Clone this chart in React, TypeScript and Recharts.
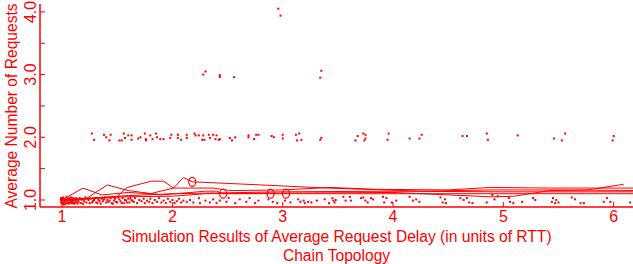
import { ComposedChart, Scatter, XAxis, YAxis } from 'recharts'

const RED = '#ff0000'
const FONT = '"Liberation Sans", Arial, sans-serif'

const xTicks = [1, 2, 3, 4, 5, 6]
const yTicks = [1, 1.5, 2, 2.5, 3, 3.5, 4]

// band near 1.0 (x, y)
const lowPts: [number, number][] = [
  [1.0, 0.95], [1.0, 0.98], [1.0, 1.02], [1.01, 0.96], [1.01, 1.04], [1.02, 0.99], [1.02, 0.93], [1.03, 1.01],
  [1.03, 0.97], [1.04, 1.05], [1.04, 0.95], [1.05, 0.99], [1.05, 1.02], [1.06, 0.96], [1.06, 0.94], [1.07, 1.03],
  [1.07, 0.99], [1.08, 0.97], [1.08, 1.04], [1.09, 0.95], [1.09, 1.01], [1.1, 0.98], [1.11, 1.02], [1.11, 0.94],
  [0.99, 1.0], [0.99, 0.96], [0.99, 1.03], [1.01, 0.93], [1.02, 1.02], [1.03, 0.94], [1.04, 1.0], [1.05, 0.96],
  [1.06, 1.01], [1.07, 0.95], [1.08, 1.0], [1.09, 0.98], [1.1, 1.03], [1.1, 0.95], [1.12, 0.96], [1.14, 0.94],
  [1.12, 0.99], [1.13, 1.03], [1.13, 0.96], [1.14, 1.0], [1.15, 0.97], [1.16, 1.03], [1.17, 0.95], [1.18, 1.01],
  [1.2, 0.98], [1.21, 1.04], [1.22, 0.96], [1.24, 1.0], [1.25, 0.95], [1.26, 1.02], [1.28, 0.98], [1.3, 1.03],
  [1.19, 0.94], [1.23, 1.02], [1.27, 0.96], [1.29, 1.0], [1.32, 0.95], [1.34, 0.98], [1.38, 1.01], [1.43, 0.99],
  [1.31, 0.96], [1.33, 1.0], [1.35, 0.94], [1.36, 1.02], [1.37, 0.98], [1.39, 1.04], [1.4, 0.96], [1.41, 1.0],
  [1.42, 0.97], [1.44, 1.03], [1.45, 0.95], [1.47, 0.99], [1.48, 1.02], [1.5, 0.96], [1.52, 1.01], [1.53, 0.98],
  [1.46, 0.94], [1.49, 0.97], [1.51, 1.04], [1.54, 0.95], [1.57, 1.0], [1.59, 0.96], [1.62, 1.03], [1.64, 0.98],
  [1.55, 1.03], [1.56, 0.95], [1.58, 0.99], [1.6, 1.02], [1.61, 0.96], [1.63, 1.0], [1.65, 0.97], [1.66, 1.03],
  [1.68, 0.95], [1.7, 1.0], [1.72, 0.98], [1.74, 1.02], [1.75, 0.95], [1.77, 0.99], [1.79, 0.97], [1.8, 1.02],
  [1.82, 0.95], [1.84, 1.0], [1.86, 0.97], [1.88, 1.03], [1.9, 0.96], [1.92, 0.99], [1.94, 0.95], [1.96, 1.02],
  [1.98, 0.97], [2.0, 1.0], [2.02, 0.95], [2.04, 0.98], [2.06, 1.02], [2.08, 0.96], [2.1, 0.99],
  [2.13, 0.97], [2.16, 1.0], [2.19, 0.96], [2.24, 1.03], [2.25, 0.95], [2.3, 0.99], [2.34, 0.96], [2.37, 1.01],
  [2.4, 0.95], [2.43, 0.99], [2.49, 0.97], [2.51, 1.03], [2.57, 0.95], [2.61, 1.01], [2.67, 0.97], [2.7, 1.03],
  [2.75, 0.95], [2.78, 0.99], [2.87, 1.01], [2.91, 0.97], [2.95, 0.95], [3.02, 0.99], [3.07, 0.96], [3.14, 1.01],
  [3.16, 0.97], [3.19, 0.99], [3.2, 0.95], [3.23, 0.97], [3.26, 0.96], [3.31, 0.99], [3.38, 1.01], [3.42, 0.95],
  [3.46, 0.99], [3.45, 1.03], [3.47, 0.96], [3.48, 1.0], [3.55, 1.05], [3.57, 0.99], [3.61, 1.05], [3.62, 0.99],
  [3.71, 1.03], [3.73, 1.04], [3.75, 0.99], [3.77, 0.96], [3.8, 1.03], [3.82, 1.01], [3.91, 1.05], [3.92, 0.96],
  [3.94, 1.03], [3.99, 0.96], [4.03, 0.99], [4.15, 1.05], [4.18, 0.99], [4.24, 0.97], [4.21, 1.01], [4.43, 1.04],
  [4.45, 0.96], [4.48, 0.95], [4.47, 1.01], [4.61, 1.03], [4.64, 1.0], [4.67, 1.03], [4.69, 0.96], [4.72, 0.95],
  [4.85, 0.96], [4.9, 1.08], [4.92, 1.01], [4.95, 1.06], [5.05, 1.03], [5.06, 0.97], [5.09, 0.95], [5.17, 0.97],
  [5.27, 1.03], [5.29, 1.0], [5.44, 0.97], [5.45, 1.03], [5.47, 0.95], [5.48, 1.0], [5.5, 0.96], [5.62, 1.04],
  [5.65, 1.01], [5.7, 0.95], [5.73, 0.95], [5.91, 0.97], [5.94, 1.03], [5.97, 0.97], [6.15, 0.96],
]

// band near 2.0
const midPts: [number, number][] = [
  [1.27, 2.06], [1.29, 1.96], [1.38, 2.04], [1.4, 2.0], [1.43, 1.95], [1.44, 2.04], [1.52, 1.95], [1.54, 1.95],
  [1.56, 2.06], [1.57, 1.99], [1.6, 2.03], [1.63, 2.03], [1.63, 1.96], [1.69, 1.98], [1.71, 2.0], [1.75, 2.06],
  [1.76, 1.97], [1.76, 1.95], [1.8, 2.03], [1.82, 1.97], [1.85, 2.06], [1.86, 2.0], [1.89, 1.97], [1.92, 1.97],
  [1.98, 1.99], [1.99, 2.04], [2.05, 2.04], [2.05, 1.99], [2.08, 1.96], [2.13, 2.04], [2.13, 1.99], [2.2, 2.06],
  [2.21, 2.03], [2.24, 2.03], [2.27, 1.96], [2.28, 2.03], [2.29, 1.96], [2.33, 2.04], [2.34, 1.99], [2.37, 2.04],
  [2.39, 1.97], [2.4, 2.03], [2.42, 1.96], [2.43, 1.97], [2.52, 1.99], [2.54, 1.95], [2.57, 2.0], [2.69, 2.03],
  [2.69, 2.0], [2.74, 1.97], [2.76, 2.04], [2.78, 2.04], [2.9, 2.02], [2.92, 2.0], [3.0, 2.04], [3.0, 1.98],
  [3.12, 2.04], [3.15, 2.06], [3.13, 1.95], [3.17, 1.96], [3.35, 1.99], [3.34, 1.96], [3.68, 2.02], [3.66, 1.95],
  [3.73, 2.06], [3.75, 2.04], [3.75, 1.98], [3.74, 1.95], [3.96, 2.06], [3.95, 1.96], [4.15, 1.98], [4.26, 2.04],
  [4.24, 1.98], [4.63, 2.02], [4.67, 2.02], [4.85, 2.06], [4.86, 1.96], [5.13, 2.03], [5.46, 1.98], [5.56, 2.06],
  [5.53, 1.95], [6.0, 2.02], [5.99, 1.95],
]

// outliers near 3.0 and 4.0
const highPts: [number, number][] = [
  [2.3, 3.05], [2.28, 3.0], [2.43, 2.99], [2.43, 2.96], [2.56, 2.96], [3.35, 3.06], [3.34, 2.95],
  [2.96, 4.05], [2.98, 3.94],
]

const lineA: [number, number][] = [
  [1, 1], [1.49, 1.04], [1.59, 1.2], [1.81, 1.3], [1.92, 1.3], [2.01, 1.19], [2.1, 1.36], [2.18, 1.29],
  [2.8, 1.24], [3.41, 1.19], [4.27, 1.14], [4.88, 1.16], [5.42, 1.16], [6.3, 1.15],
]
const lineB: [number, number][] = [
  [1, 1], [1.19, 1.19], [1.36, 1.08], [1.6, 1.12], [1.8, 1.1], [2.01, 1.19], [2.37, 1.19], [2.52, 1.15],
  [3.0, 1.16], [3.43, 1.2], [3.84, 1.17], [4.5, 1.16], [4.88, 1.2], [5.42, 1.19], [6.3, 1.19],
]
const lineC: [number, number][] = [
  [1, 1], [1.2, 1.0], [1.41, 1.24], [1.6, 1.15], [1.9, 1.08], [2.3, 1.14], [2.4, 1.14], [2.46, 1.1],
  [2.9, 1.1], [3.03, 1.1], [6.3, 1.1],
]
const lineD: [number, number][] = [
  [1, 1], [1.5, 1.05], [2.0, 1.06], [2.3, 1.1], [3.0, 1.11], [4.0, 1.12], [4.9, 1.05], [5.1, 1.06],
  [5.42, 1.15], [5.76, 1.16], [6.09, 1.25],
]
const lineE: [number, number][] = [
  [1, 1], [1.6, 1.07], [2.0, 1.1], [3.0, 1.13], [4.0, 1.14], [5.0, 1.13], [6.3, 1.13],
]
const rings: [number, number][] = [[2.18, 1.29], [2.46, 1.1], [2.89, 1.1], [3.03, 1.1]]

const toRows = (arr: [number, number][]) => arr.map(([x, y]) => ({ x, y }))

// plot frame edges in the 633x264 canvas
const AXIS_Y = 207
const AXIS_X = 40

const Dot = (p: any) => <rect x={p.cx - 1} y={p.cy - 1} width={2} height={2} fill={RED} />
const Ring = (p: any) => <ellipse cx={p.cx} cy={p.cy} rx={3.5} ry={4.5} fill="none" stroke={RED} strokeWidth={1.2} />
const NoDot = () => <g />

const XTick = (p: any) => (
  <g>
    <line x1={p.x} x2={p.x} y1={AXIS_Y} y2={AXIS_Y - 5} stroke={RED} />
    <text x={p.x} y={AXIS_Y + 15} textAnchor="middle" fill={RED} fontSize={16} fontFamily={FONT}>
      {p.payload.value}
    </text>
  </g>
)

const YTick = (p: any) => {
  const v = p.payload.value
  const tx = AXIS_X - 4
  return (
    <g>
      <line x1={AXIS_X} x2={AXIS_X + 5} y1={p.y} y2={p.y} stroke={RED} />
      {Number.isInteger(v) && (
        <text x={tx} y={p.y} transform={`rotate(-90 ${tx} ${p.y})`} textAnchor="middle" fill={RED} fontSize={16} fontFamily={FONT}>
          {v.toFixed(1)}
        </text>
      )}
    </g>
  )
}

export default function App() {
  const lines = [lineA, lineB, lineC, lineD, lineE]
  return (
    <div style={{ position: 'absolute', left: 0, top: 0, width: 633, height: 264, overflow: 'hidden', background: '#fff', fontFamily: FONT }}>
      <ComposedChart width={660} height={264} margin={{ top: 4, right: 0, bottom: 0, left: 0 }}>
        <XAxis xAxisId="top" orientation="top" type="number" dataKey="x" domain={[0.8, 6.42]} height={0} tick={false} tickLine={false} axisLine={{ stroke: RED, strokeWidth: 1.5 }} allowDataOverflow />
        <XAxis type="number" dataKey="x" domain={[0.8, 6.42]} ticks={xTicks} height={57} allowDataOverflow interval={0}
          axisLine={{ stroke: RED, strokeWidth: 1.5 }} tickLine={false} tick={<XTick />} />
        <YAxis type="number" dataKey="y" domain={[0.888, 4.126]} ticks={yTicks} width={40} allowDataOverflow interval={0}
          axisLine={{ stroke: RED, strokeWidth: 1.5 }} tickLine={false} tick={<YTick />} />
        {lines.map((l, i) => (
          <Scatter key={i} data={toRows(l)} line={{ stroke: RED, strokeWidth: 1 }} shape={<NoDot />} isAnimationActive={false} />
        ))}
        <Scatter data={toRows(lowPts)} shape={<Dot />} isAnimationActive={false} />
        <Scatter data={toRows(midPts)} shape={<Dot />} isAnimationActive={false} />
        <Scatter data={toRows(highPts)} shape={<Dot />} isAnimationActive={false} />
        <Scatter data={toRows(rings)} shape={<Ring />} isAnimationActive={false} />
      </ComposedChart>
      <div style={{ position: 'absolute', left: 0, width: 633, top: 227, textAlign: 'center', color: RED, fontSize: 15.6, lineHeight: '19px', paddingLeft: 40, boxSizing: 'border-box' }}>
        Simulation Results of Average Request Delay (in units of RTT)<br />Chain Topology
      </div>
      <div style={{ position: 'absolute', left: 12, top: 106, width: 0, height: 0 }}>
        <div style={{ position: 'absolute', transform: 'translate(-50%, -50%) rotate(-90deg)', whiteSpace: 'nowrap', color: RED, fontSize: 15.6 }}>
          Average Number of Requests
        </div>
      </div>
    </div>
  )
}
